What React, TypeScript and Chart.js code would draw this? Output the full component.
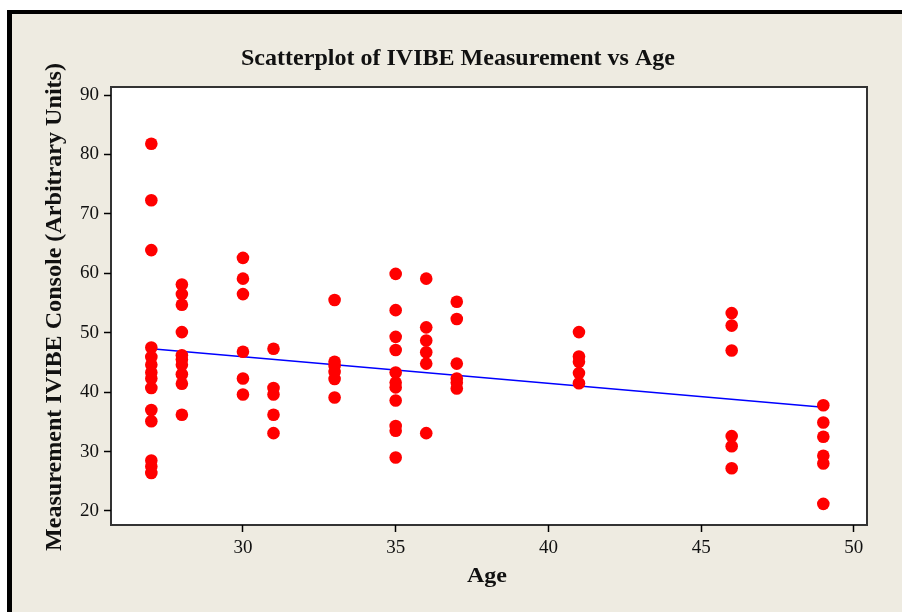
import React, { useEffect, useRef } from "react";
import { Chart, registerables } from "chart.js";

Chart.register(...registerables);

const TITLE = "Scatterplot of IVIBE Measurement vs Age";
const X_TITLE = "Age";
const Y_TITLE = "Measurement IVIBE Console (Arbitrary Units)";

const ages = [27, 28, 30, 31, 33, 35, 36, 37, 41, 46, 49];
const age27 = [81.8, 72.3, 63.9, 47.5, 45.9, 44.6, 43.3, 42.3, 40.7, 37.0, 35.1, 28.5, 27.5, 26.4];
const age28 = [58.1, 56.5, 54.7, 50.1, 46.2, 45.5, 44.6, 43.0, 41.4, 36.2];
const age30 = [62.6, 59.1, 56.5, 46.8, 42.3, 39.6];
const age31 = [47.3, 40.7, 39.6, 36.2, 33.1];
const age33 = [55.5, 45.1, 44.4, 43.4, 42.2, 39.1];
const age35 = [59.9, 53.8, 49.3, 47.1, 43.3, 41.6, 40.8, 38.6, 34.3, 33.5, 29.0];
const age36 = [59.1, 50.9, 48.7, 46.7, 44.8, 33.1];
const age37 = [55.2, 52.3, 44.8, 42.3, 41.6, 40.6];
const age41 = [50.1, 46.0, 45.1, 43.2, 41.5];
const age46 = [53.3, 51.2, 47.0, 32.6, 30.9, 27.2];
const age49 = [37.8, 34.9, 32.5, 29.3, 28.0, 21.2];
const measurements = [age27, age28, age30, age31, age33, age35, age36, age37, age41, age46, age49];

const fitAges = [27, 49];
const fitValues = [47.3, 37.45];

const xTicks = [30, 35, 40, 45, 50];
const yTicks = [20, 30, 40, 50, 60, 70, 80, 90];
const xRange = [25.68, 50.43];
const yRange = [17.64, 91.35];

const SERIF = '"Liberation Serif", "Times New Roman", serif';

function drawFitted(
  ctx: CanvasRenderingContext2D,
  text: string,
  font: string,
  cx: number,
  baseline: number,
  targetWidth: number,
  rotate: boolean
) {
  ctx.save();
  ctx.font = font;
  ctx.fillStyle = "#111";
  const w = ctx.measureText(text).width;
  ctx.translate(cx, baseline);
  if (rotate) ctx.rotate(-Math.PI / 2);
  ctx.scale(targetWidth / w, 1);
  ctx.textAlign = "center";
  ctx.textBaseline = "alphabetic";
  ctx.fillText(text, 0, 0);
  ctx.restore();
}

const framePlugin = {
  id: "frame",
  beforeDraw(chart: any) {
    const { ctx, width, height, chartArea } = chart;
    ctx.save();
    ctx.fillStyle = "#ffffff";
    ctx.fillRect(0, 0, width, height);
    ctx.fillStyle = "#000000";
    ctx.fillRect(7, 10, width - 7, height - 10);
    ctx.fillStyle = "#eeebe1";
    ctx.fillRect(12, 14, width - 12, height - 14);
    ctx.fillStyle = "#ffffff";
    ctx.fillRect(chartArea.left, chartArea.top, chartArea.right - chartArea.left, chartArea.bottom - chartArea.top);
    ctx.strokeStyle = "#333333";
    ctx.lineWidth = 2;
    ctx.strokeRect(chartArea.left, chartArea.top, chartArea.right - chartArea.left, chartArea.bottom - chartArea.top);
    ctx.restore();
  },
  afterDraw(chart: any) {
    const { ctx } = chart;
    drawFitted(ctx, TITLE, `bold 23px ${SERIF}`, 458, 65, 434, false);
    drawFitted(ctx, Y_TITLE, `bold 24px ${SERIF}`, 61, 307, 488, true);
    drawFitted(ctx, X_TITLE, `bold 22px ${SERIF}`, 487, 582, 40, false);
  },
};

export default function App() {
  const ref = useRef<HTMLCanvasElement | null>(null);

  useEffect(() => {
    if (!ref.current) return;
    const points: { x: number; y: number }[] = [];
    ages.forEach((a, i) => {
      measurements[i].forEach((v) => points.push({ x: a, y: v }));
    });
    const fit = fitAges.map((a, i) => ({ x: a, y: fitValues[i] }));

    const chart = new Chart(ref.current, {
      type: "scatter",
      data: {
        datasets: [
          {
            type: "scatter",
            label: "IVIBE",
            data: points,
            backgroundColor: "#ff0000",
            borderWidth: 0,
            pointRadius: 6.3,
            pointHoverRadius: 6.3,
            order: 1,
          },
          {
            type: "line",
            label: "Fit",
            data: fit,
            borderColor: "#0000ff",
            borderWidth: 1.5,
            pointRadius: 0,
            fill: false,
            showLine: true,
            order: 2,
          },
        ],
      },
      plugins: [framePlugin],
      options: {
        responsive: false,
        animation: false,
        devicePixelRatio: 1,
        layout: { padding: { left: 0, top: 87, right: 35, bottom: 0 } },
        plugins: {
          legend: { display: false },
          title: { display: false },
          tooltip: { enabled: false },
        },
        scales: {
          x: {
            type: "linear",
            min: xRange[0],
            max: xRange[1],
            afterFit: (s: any) => {
              s.height = 87;
            },
            afterBuildTicks: (s: any) => {
              s.ticks = xTicks.map((v) => ({ value: v }));
            },
            border: { display: false },
            grid: {
              drawOnChartArea: false,
              drawTicks: true,
              tickLength: 7,
              tickColor: "#000",
              tickWidth: 1.5,
            },
            ticks: {
              color: "#111",
              padding: 5,
              maxRotation: 0,
              font: { family: SERIF, size: 19 },
            },
          },
          y: {
            type: "linear",
            min: yRange[0],
            max: yRange[1],
            afterFit: (s: any) => {
              s.width = 111;
            },
            afterBuildTicks: (s: any) => {
              s.ticks = yTicks.map((v) => ({ value: v }));
            },
            border: { display: false },
            grid: {
              drawOnChartArea: false,
              drawTicks: true,
              tickLength: 7,
              tickColor: "#000",
              tickWidth: 1.5,
            },
            ticks: {
              color: "#111",
              padding: 5,
              font: { family: SERIF, size: 19 },
            },
          },
        },
      },
    } as any);
    return () => chart.destroy();
  }, []);

  return (
    <div style={{ position: "fixed", left: 0, top: 0, width: 902, height: 612 }}>
      <canvas ref={ref} width={902} height={612} style={{ display: "block", width: 902, height: 612 }} />
    </div>
  );
}
